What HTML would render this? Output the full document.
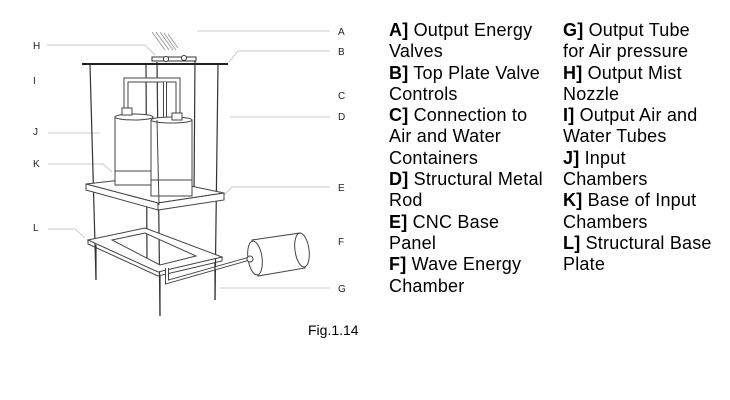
<!DOCTYPE html>
<html><head><meta charset="utf-8"><style>
html,body{margin:0;padding:0;background:#fff;}
body{width:730px;height:400px;position:relative;overflow:hidden;font-family:"Liberation Sans",Arial,sans-serif;}
.col{position:absolute;top:20px;font-size:18px;letter-spacing:0.2px;line-height:21.3px;color:#000;white-space:nowrap;}
.lbl{position:absolute;font-size:10px;color:#222;}
</style></head><body>
<svg width="730" height="400" style="position:absolute;left:0;top:0" xmlns="http://www.w3.org/2000/svg">
<g stroke="#bbb" stroke-width="0.8" fill="none">
<polyline points="197,31 330,31"/>
<polyline points="229,62 238,51 330,51"/>
<polyline points="230,117 330,117"/>
<polyline points="224,195 232,187 330,187"/>
<polyline points="220,288 330,288"/>
<polyline points="47,45 145,45 155,55"/>
<polyline points="48,133 100,133"/>
<polyline points="48,164 103,164 112,172"/>
<polyline points="48,229 75,229 85,238"/>
</g>
<g stroke="#888" stroke-width="0.7">
<line x1="152" y1="32" x2="165" y2="50"/><line x1="156" y1="32" x2="169" y2="50"/>
<line x1="160" y1="32" x2="173" y2="50"/><line x1="164" y1="33" x2="176" y2="50"/>
<line x1="168" y1="34" x2="178" y2="48"/>
</g>
<g stroke="#333" stroke-width="1.2" fill="none">
<line x1="90" y1="65" x2="96" y2="280"/>
<line x1="146" y1="64" x2="147" y2="258"/>
<line x1="218" y1="65" x2="215" y2="300"/>
<line x1="157" y1="62" x2="160" y2="316"/>
<line x1="195" y1="58" x2="194" y2="196"/>
</g>
<line x1="82" y1="64" x2="228" y2="64" stroke="#222" stroke-width="2"/>
<rect x="152" y="57" width="44" height="4" fill="#fff" stroke="#333"/>
<circle cx="166" cy="59" r="2.5" fill="#fff" stroke="#333"/>
<circle cx="184" cy="58" r="2.5" fill="#fff" stroke="#333"/>
<g stroke="#444" fill="#fff" stroke-width="1">
<path d="M126,112 V80 H178 V117" fill="none" stroke-width="5" stroke="#444"/>
<path d="M126,112 V80 H178 V117" fill="none" stroke-width="3" stroke="#fff"/>
<path d="M165,82 V117" fill="none" stroke-width="4" stroke="#444"/>
<path d="M165,82 V117" fill="none" stroke-width="2" stroke="#fff"/>
<polygon points="86,184 148,177 224,193 158,203"/>
<polygon points="86,184 158,203 158,210 86,190"/>
<polygon points="158,203 224,193 224,200 158,210"/>
<rect x="115" y="117" width="38" height="68"/>
<ellipse cx="134" cy="117" rx="19" ry="3"/>
<line x1="115" y1="171" x2="153" y2="171"/>
<rect x="122" y="108" width="10" height="7"/>
<rect x="151" y="120" width="41" height="76"/>
<ellipse cx="171.5" cy="120" rx="20.5" ry="3"/>
<line x1="151" y1="180" x2="192" y2="180"/>
<rect x="172" y="113" width="10" height="7"/>
</g>
<line x1="157" y1="120" x2="159" y2="205" stroke="#444"/>
<g stroke="#444" fill="#fff" stroke-width="1">
<path fill-rule="evenodd" d="M88,240 L145,228 L222,257 L158,272 Z M112,240 L145,233 L196,256 L160,265 Z"/>
<polyline points="88,240 88,244 158,276 222,261 222,257" fill="none"/>
<path d="M167,268 V282 L248,259" fill="none" stroke-width="4"/>
<path d="M167,268 V282 L248,259" fill="none" stroke-width="2" stroke="#fff"/>
<polygon points="252,240 300,233 305,268 258,276"/>
<ellipse cx="302" cy="250" rx="7" ry="17" transform="rotate(-8 302 250)"/>
<ellipse cx="255" cy="258" rx="7" ry="17" transform="rotate(-8 255 258)"/>
<circle cx="250" cy="259" r="3"/>
</g>
<line x1="96" y1="245" x2="96" y2="280" stroke="#333" stroke-width="1.2"/>
<line x1="160" y1="276" x2="160" y2="316" stroke="#333" stroke-width="1.2"/>
<line x1="215" y1="262" x2="215" y2="300" stroke="#333" stroke-width="1.2"/>
</svg>
<div class="lbl" style="left:338px;top:27px">A</div>
<div class="lbl" style="left:33px;top:41px">H</div>
<div class="lbl" style="left:338px;top:47px">B</div>
<div class="lbl" style="left:33px;top:76px">I</div>
<div class="lbl" style="left:338px;top:91px">C</div>
<div class="lbl" style="left:338px;top:112px">D</div>
<div class="lbl" style="left:33px;top:127px">J</div>
<div class="lbl" style="left:33px;top:159px">K</div>
<div class="lbl" style="left:338px;top:183px">E</div>
<div class="lbl" style="left:33px;top:223px">L</div>
<div class="lbl" style="left:338px;top:237px">F</div>
<div class="lbl" style="left:338px;top:284px">G</div>
<div style="position:absolute;left:308px;top:322px;font-size:14px">Fig.1.14</div>
<div class="col" style="left:389px"><b>A]</b> Output Energy<br>Valves<br><b>B]</b> Top Plate Valve<br>Controls<br><b>C]</b> Connection to<br>Air and Water<br>Containers<br><b>D]</b> Structural Metal<br>Rod<br><b>E]</b> CNC Base<br>Panel<br><b>F]</b> Wave Energy<br>Chamber</div>
<div class="col" style="left:563px"><b>G]</b> Output Tube<br>for Air pressure<br><b>H]</b> Output Mist<br>Nozzle<br><b>I]</b> Output Air and<br>Water Tubes<br><b>J]</b> Input<br>Chambers<br><b>K]</b> Base of Input<br>Chambers<br><b>L]</b> Structural Base<br>Plate</div>
</body></html>
